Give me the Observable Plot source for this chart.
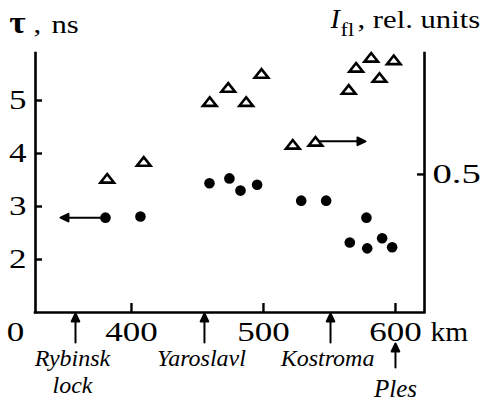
<!DOCTYPE html>
<html><head><meta charset="utf-8">
<script src="https://cdn.jsdelivr.net/npm/d3@7"></script>
<script src="https://cdn.jsdelivr.net/npm/@observablehq/plot@0.6"></script>
<style>
body{margin:0;background:#fff}
#chart svg{color:#000;background:#fff;overflow:visible}
#chart svg text, #chart svg tspan{font-family:"Liberation Serif","Times New Roman",serif !important}
</style>
</head><body><div id="chart"></div>
<script>
// Data
const tauKm  = [380.3, 406.8, 459.1, 474.2, 482.6, 495.2, 528.6, 547.5, 578.0, 565.4, 578.6, 589.9, 597.5];
const tauNs  = [2.79, 2.81, 3.44, 3.53, 3.30, 3.41, 3.11, 3.11, 2.79, 2.32, 2.21, 2.40, 2.23];
const flKm   = [381.6, 409.3, 459.3, 473.3, 486.9, 498.5, 522.2, 539.4, 564.6, 570.2, 581.6, 587.9, 598.7];
const flRel  = [0.486, 0.547, 0.764, 0.815, 0.764, 0.866, 0.609, 0.620, 0.808, 0.888, 0.924, 0.851, 0.915];
const cityNames = ["Rybinsk\nlock", "Yaroslavl", "Kostroma", "Ples"];
const cityKm    = [357.6, 455.3, 550.8, 600];
const xTicks   = [400, 500, 600];
const tauTicks = [2, 3, 4, 5];
const flTicks  = [0.5];
const xDomain   = [327.3, 622];
const tauDomain = [1, 5.887];
const flDomain  = [0, 0.938];

const toTau = d3.scaleLinear(flDomain, tauDomain);
const tauData = tauKm.map((km, i) => ({km, v: tauNs[i]}));
const flData  = flKm.map((km, i) => ({km, v: toTau(flRel[i])}));
const cities  = cityKm.map((km, i) => ({km, name: cityNames[i]}));

const flatTri = {draw(ctx) { ctx.moveTo(0, -4.3); ctx.lineTo(6.8, 4.3); ctx.lineTo(-6.8, 4.3); ctx.closePath(); }};
const arrowShape = {draw(ctx, l) {
  const h = 8, w = 3.8;
  ctx.moveTo(0, 0); ctx.lineTo(0, -(l - h + 1));
  ctx.moveTo(0, -l); ctx.lineTo(w, -l + h); ctx.lineTo(-w, -l + h); ctx.closePath();
}};
const T = {fontFamily: "Liberation Serif"};

const chart = Plot.plot({
  width: 484, height: 401,
  marginLeft: 35, marginRight: 60, marginTop: 53, marginBottom: 89,
  x: {domain: xDomain},
  y: {domain: tauDomain},
  marks: [
    Plot.ruleX(xDomain, {strokeWidth: 2.6, strokeLinecap: "square"}),
    Plot.ruleY([tauDomain[0]], {strokeWidth: 2.6, strokeLinecap: "square"}),
    Plot.axisX({...T, fontSize: 28, ticks: xTicks, tickFormat: d3.format("d"), tickSize: -9, tickPadding: 18, strokeWidth: 2.4, label: null}),
    Plot.axisY({...T, fontSize: 28, anchor: "left", ticks: tauTicks, tickFormat: d3.format("d"), tickSize: -7, tickPadding: 16, strokeWidth: 2.4, label: null}),
    Plot.axisY({...T, fontSize: 28, anchor: "right", ticks: flTicks.map(toTau), tickFormat: d => d3.format(".1f")(toTau.invert(d)),
      tickSize: -8, tickPadding: 16, strokeWidth: 2.4, label: null}),
    // extra axis texts
    Plot.text(["0"], {...T, frameAnchor: "bottom-left", dx: -20, dy: 9, lineAnchor: "top", textAnchor: "middle", fontSize: 28}),
    Plot.text(["km"], {...T, frameAnchor: "bottom-right", dx: 6, dy: 9, lineAnchor: "top", textAnchor: "start", fontSize: 28}),
    // titles
    Plot.text(["τ"], {...T, frameAnchor: "top-left", dx: -18, dy: -21, lineAnchor: "bottom", textAnchor: "middle", fontSize: 31, fontWeight: "bold"}),
    Plot.text([","], {...T, frameAnchor: "top-left", dx: -2, dy: -21, lineAnchor: "bottom", textAnchor: "start", fontSize: 26}),
    Plot.text(["ns"], {...T, frameAnchor: "top-left", dx: 16, dy: -21, lineAnchor: "bottom", textAnchor: "start", fontSize: 26}),
    Plot.text(["I"], {...T, frameAnchor: "top-right", dx: -94, dy: -26, lineAnchor: "bottom", textAnchor: "start", fontSize: 28, fontStyle: "italic"}),
    Plot.text(["fl"], {...T, frameAnchor: "top-right", dx: -84, dy: -18, lineAnchor: "bottom", textAnchor: "start", fontSize: 19}),
    Plot.text([", rel. units"], {...T, frameAnchor: "top-right", dx: -67, dy: -26, lineAnchor: "bottom", textAnchor: "start", fontSize: 26}),
    // cities
    Plot.vector(cities.slice(0, 3), {x: "km", frameAnchor: "bottom", dy: 30, length: 29, anchor: "start", rotate: 0,
      shape: arrowShape, fill: "black", stroke: "black", strokeWidth: 2}),
    Plot.vector(cities.slice(3), {x: "km", frameAnchor: "bottom", dy: 55, length: 24, anchor: "start", rotate: 0,
      shape: arrowShape, fill: "black", stroke: "black", strokeWidth: 2}),
    Plot.text(cities.slice(0, 3), {...T, x: "km", text: "name", frameAnchor: "bottom", dy: 35, dx: -3, lineAnchor: "top",
      lineHeight: 1.1, textAnchor: "middle", fontSize: 24, fontStyle: "italic"}),
    Plot.text(cities.slice(3), {...T, x: "km", text: "name", frameAnchor: "bottom", dy: 84, lineAnchor: "bottom",
      textAnchor: "middle", fontSize: 25, fontStyle: "italic"}),
    // axis indicator arrows
    Plot.vector(tauData.slice(0, 1), {x: "km", y: "v", length: 45, rotate: -90, anchor: "start",
      shape: arrowShape, fill: "black", stroke: "black", strokeWidth: 2}),
    Plot.vector(flData.slice(7, 8), {x: "km", y: "v", length: 50, rotate: 90, anchor: "start",
      shape: arrowShape, fill: "black", stroke: "black", strokeWidth: 2}),
    // data
    Plot.dot(tauData, {x: "km", y: "v", r: 5.3, fill: "black", stroke: null}),
    Plot.dot(flData, {x: "km", y: "v", symbol: flatTri, fill: "white", stroke: "black", strokeWidth: 2.6})
  ]
});
document.getElementById("chart").append(chart);

// horizontally widen text like the reference typography
const widen = t => /^[0-9]+$/.test(t) ? 1.25 : t === "0.5" ? 1.38 : t === "km" ? 1.05 :
  t === "τ" ? 1.15 : [",", "ns", "fl", ", rel. units"].includes(t) ? 1.18 : 1;
chart.querySelectorAll("text").forEach(t => {
  const s = widen(t.textContent);
  if (s === 1) return;
  const ax = parseFloat(t.getAttribute("x") || 0);
  const tr = t.getAttribute("transform") || "";
  t.setAttribute("transform", `${tr} translate(${ax},0) scale(${s},1) translate(${-ax},0)`);
});
</script>
</body></html>
